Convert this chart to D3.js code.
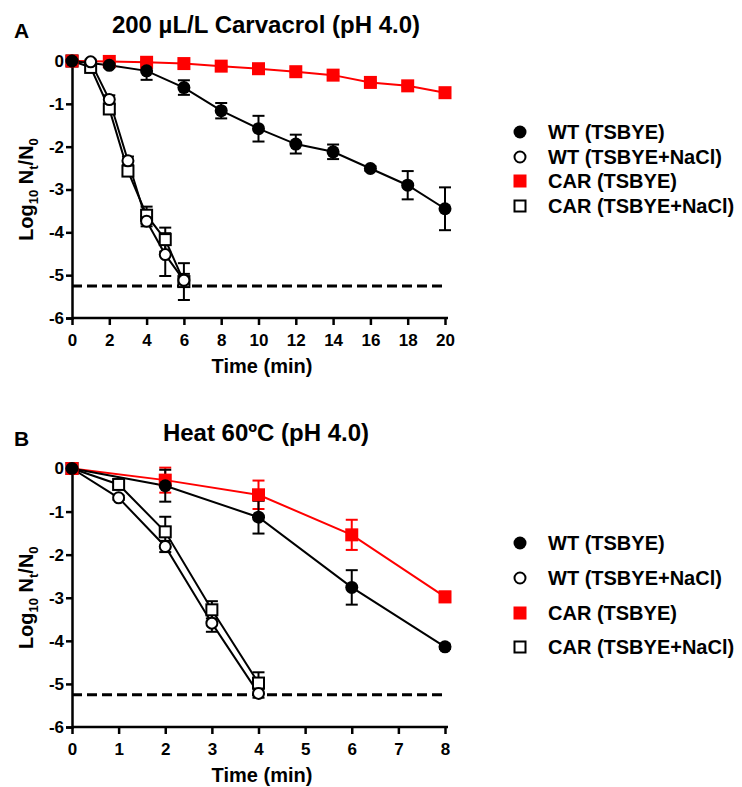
<!DOCTYPE html>
<html>
<head>
<meta charset="utf-8">
<script src="https://cdn.jsdelivr.net/npm/d3@7"></script>
<style>
  body { margin: 0; background: #fff; }
  text { font-family: "Liberation Sans", Arial, sans-serif; font-weight: bold; }
</style>
</head>
<body>
<svg width="742" height="787"></svg>
<script>
// ---- data: panel A (carvacrol) ----
var timeA = [0, 2, 4, 6, 8, 10, 12, 14, 16, 18, 20];
var timeA_NaCl = [0, 1, 2, 3, 4, 5, 6];
var wtA = [0, -0.1, -0.23, -0.62, -1.16, -1.58, -1.94, -2.12, -2.51, -2.9, -3.45];
var wtA_err = [0.05, 0.05, 0.21, 0.17, 0.18, 0.3, 0.22, 0.17, 0.05, 0.33, 0.5];
var carA = [0, -0.01, -0.03, -0.06, -0.12, -0.18, -0.25, -0.33, -0.5, -0.58, -0.74];
var carA_err = [0.03, 0.03, 0.03, 0.03, 0.03, 0.03, 0.03, 0.03, 0.03, 0.03, 0.03];
var wtNaClA = [0, -0.02, -0.9, -2.33, -3.74, -4.52, -5.12];
var wtNaClA_err = [0.05, 0.05, 0.1, 0.1, 0.12, 0.5, 0.15];
var carNaClA = [0, -0.15, -1.12, -2.57, -3.6, -4.17, -5.15];
var carNaClA_err = [0.05, 0.05, 0.1, 0.1, 0.2, 0.28, 0.43];
var ticksA = [0, 2, 4, 6, 8, 10, 12, 14, 16, 18, 20];

// ---- data: panel B (heat) ----
var timeB = [0, 2, 4, 6, 8];
var timeB_NaCl = [0, 1, 2, 3, 4];
var wtB = [0, -0.4, -1.13, -2.76, -4.14];
var wtB_err = [0.05, 0.37, 0.38, 0.4, 0.05];
var carB = [0, -0.27, -0.61, -1.54, -2.98];
var carB_err = [0.05, 0.29, 0.33, 0.35, 0.12];
var wtNaClB = [0, -0.68, -1.81, -3.59, -5.22];
var wtNaClB_err = [0.05, 0.05, 0.13, 0.2, 0.1];
var carNaClB = [0, -0.37, -1.47, -3.28, -4.98];
var carNaClB_err = [0.05, 0.05, 0.35, 0.2, 0.25];
var ticksB = [0, 1, 2, 3, 4, 5, 6, 7, 8];

var yTicks = [0, -1, -2, -3, -4, -5, -6];
var detectionLimit = -5.25;
var legendLabels = ["WT (TSBYE)", "WT (TSBYE+NaCl)", "CAR (TSBYE)", "CAR (TSBYE+NaCl)"];

var svg = d3.select("svg");

function zip(t, v, e) {
	return t.map(function(d, i) { return {t: d, v: v[i], e: e[i]}; });
}

function drawPanel(p) {
	var x = d3.scaleLinear().domain([0, p.xMax]).range([72, 445]);
	var y = d3.scaleLinear().domain([0, -6]).range([p.top, p.bottom]);
	var g = svg.append("g");

	// panel letter + title
	g.append("text").attr("x", 14).attr("y", p.top - 23).style("font-size", "21px").text(p.letter);
	g.append("text").attr("x", 266).attr("y", p.top - 28).attr("text-anchor", "middle")
		.style("font-size", "24px").text(p.title);

	// axes
	var ya = g.append("g").attr("transform", "translate(72,0)")
		.call(d3.axisLeft(y).tickValues(yTicks).tickFormat(function(d) { return String(d); })
			.tickSizeOuter(0).tickSize(6).tickPadding(2));
	var xa = g.append("g").attr("transform", "translate(0," + p.bottom + ")")
		.call(d3.axisBottom(x).tickValues(p.ticks).tickSizeOuter(0).tickSize(7).tickPadding(9));
	[ya, xa].forEach(function(a) {
		a.select(".domain").style("stroke", "#000").style("stroke-width", 2.5);
		a.selectAll(".tick line").style("stroke", "#000").style("stroke-width", 2.5);
		a.selectAll("text").style("font-size", "17px").style("font-weight", "bold")
			.style("font-family", "'Liberation Sans', Arial, sans-serif").attr("fill", "#000");
	});
	xa.select(".domain").attr("d", "M72,0H448");

	// axis labels
	g.append("text").attr("x", 262).attr("y", p.bottom + 55).attr("text-anchor", "middle")
		.style("font-size", "20px").text("Time (min)");
	var yl = g.append("text").attr("text-anchor", "middle")
		.attr("transform", "translate(33," + ((p.top + p.bottom) / 2) + ") rotate(-90)")
		.style("font-size", "20px");
	yl.append("tspan").text("Log");
	yl.append("tspan").attr("dy", 5).style("font-size", "13px").text("10");
	yl.append("tspan").attr("dy", -5).text(" N");
	yl.append("tspan").attr("dy", 5).style("font-size", "13px").text("t");
	yl.append("tspan").attr("dy", -5).text("/N");
	yl.append("tspan").attr("dy", 5).style("font-size", "13px").text("0");

	// detection limit
	g.append("line").attr("x1", 72).attr("x2", 445)
		.attr("y1", y(detectionLimit)).attr("y2", y(detectionLimit))
		.style("stroke", "#000").style("stroke-width", 3).style("stroke-dasharray", "10,5");

	var line = d3.line().x(function(d) { return x(d.t); }).y(function(d) { return y(d.v); });

	p.series.forEach(function(s) {
		var sg = g.append("g");
		sg.append("path").datum(s.data).attr("d", line)
			.style("fill", "none").style("stroke", s.color).style("stroke-width", 2);
		var eb = sg.selectAll(".err").data(s.data).enter().append("g");
		eb.append("line").attr("x1", function(d) { return x(d.t); }).attr("x2", function(d) { return x(d.t); })
			.attr("y1", function(d) { return y(d.v + d.e); }).attr("y2", function(d) { return y(d.v - d.e); });
		eb.append("line").attr("x1", function(d) { return x(d.t) - 6; }).attr("x2", function(d) { return x(d.t) + 6; })
			.attr("y1", function(d) { return y(d.v + d.e); }).attr("y2", function(d) { return y(d.v + d.e); });
		eb.append("line").attr("x1", function(d) { return x(d.t) - 6; }).attr("x2", function(d) { return x(d.t) + 6; })
			.attr("y1", function(d) { return y(d.v - d.e); }).attr("y2", function(d) { return y(d.v - d.e); });
		eb.selectAll("line").style("stroke", s.color).style("stroke-width", 2);
	});
	p.series.forEach(function(s) {
		drawMarkers(g, s.data.map(function(d) { return [x(d.t), y(d.v)]; }), s);
	});

	// legend
	p.series.slice().sort(function(a, b) { return a.order - b.order; }).forEach(function(s, i) {
		var ly = p.legendY[i];
		drawMarkers(g, [[520, ly]], s);
		g.append("text").attr("x", 548).attr("y", ly).attr("dy", "0.36em")
			.style("font-size", "20px").text(legendLabels[s.order]);
	});
}

function drawMarkers(g, pts, s) {
	pts.forEach(function(pt) {
		if (s.shape === "circle") {
			g.append("circle").attr("cx", pt[0]).attr("cy", pt[1]).attr("r", s.open ? 5.5 : 6.5)
				.style("fill", s.open ? "#fff" : s.color)
				.style("stroke", s.open ? "#000" : "none").style("stroke-width", 2);
		} else {
			var h = s.open ? 5.5 : 6.5;
			g.append("rect").attr("x", pt[0] - h).attr("y", pt[1] - h).attr("width", 2 * h).attr("height", 2 * h)
				.style("fill", s.open ? "#fff" : s.color)
				.style("stroke", s.open ? "#000" : "none").style("stroke-width", 2);
		}
	});
}

drawPanel({
	letter: "A", title: "200 \u00b5L/L Carvacrol (pH 4.0)", xMax: 20, ticks: ticksA,
	top: 61, bottom: 318, legendY: [132, 157, 181, 206],
	series: [
		{order: 3, data: zip(timeA_NaCl, carNaClA, carNaClA_err), color: "#000", shape: "square", open: true},
		{order: 1, data: zip(timeA_NaCl, wtNaClA, wtNaClA_err), color: "#000", shape: "circle", open: true},
		{order: 2, data: zip(timeA, carA, carA_err), color: "#ff0000", shape: "square", open: false},
		{order: 0, data: zip(timeA, wtA, wtA_err), color: "#000", shape: "circle", open: false}
	]
});

drawPanel({
	letter: "B", title: "Heat 60\u00baC (pH 4.0)", xMax: 8, ticks: ticksB,
	top: 468.5, bottom: 727, legendY: [543, 578, 613, 647],
	series: [
		{order: 3, data: zip(timeB_NaCl, carNaClB, carNaClB_err), color: "#000", shape: "square", open: true},
		{order: 1, data: zip(timeB_NaCl, wtNaClB, wtNaClB_err), color: "#000", shape: "circle", open: true},
		{order: 2, data: zip(timeB, carB, carB_err), color: "#ff0000", shape: "square", open: false},
		{order: 0, data: zip(timeB, wtB, wtB_err), color: "#000", shape: "circle", open: false}
	]
});
</script>
</body>
</html>
